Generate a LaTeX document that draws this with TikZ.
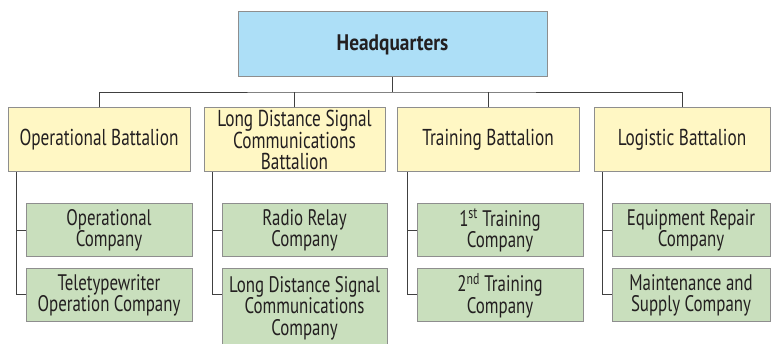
\documentclass[tikz,border=0pt]{standalone}
\usepackage{fontspec}
\setmainfont{PT Sans}
\newfontfamily\condfont[FakeStretch=0.75]{PT Sans}
\newfontfamily\hqfont[FakeStretch=0.86]{PT Sans}
\definecolor{hqfill}{HTML}{ADDFF7}
\definecolor{bfill}{HTML}{FFF7C4}
\definecolor{cfill}{HTML}{C9DFBD}
\definecolor{boxline}{HTML}{8E8E8E}
\definecolor{conn}{HTML}{404040}
\definecolor{txt}{HTML}{231F20}
\begin{document}
\begin{tikzpicture}[x=1pt,y=-1pt,
  box/.style={draw=boxline,line width=1pt,rectangle,align=center,inner sep=0pt,
    font=\condfont\fontsize{23}{21}\selectfont,text=txt},
  hqbox/.style={box,fill=hqfill,minimum width=309pt,minimum height=65pt,font=\hqfont\fontsize{22.5}{24}\selectfont\bfseries},
  battbox/.style={box,fill=bfill,minimum height=64pt},
  compbox/.style={box,fill=cfill,minimum height=53pt,font=\condfont\fontsize{22.5}{21.5}\selectfont},
  link/.style={draw=conn,line width=0.8pt}]
\useasboundingbox (0,0) rectangle (771,344);

\node[hqbox] (hq) at (392.5,44.5) {Headquarters};

\node[battbox,minimum width=182pt] (ob) at (99,140) {Operational Battalion};
\node[battbox,minimum width=181pt] (lb) at (294.5,140) {Long Distance Signal\\Communications\\Battalion};
\node[battbox,minimum width=182pt] (tb) at (488,140) {Training Battalion};
\node[battbox,minimum width=176pt] (gb) at (682,140) {Logistic Battalion};

\node[compbox,minimum width=166pt] (oc1) at (109,230.5) {Operational\\Company};
\node[compbox,minimum width=166pt] (oc2) at (109,295.5) {Teletypewriter\\Operation Company};
\node[compbox,minimum width=165pt] (lc1) at (304.5,230.5) {Radio Relay\\Company};
\node[compbox,minimum width=165pt,minimum height=78pt] (lc2) at (304.5,308) {Long Distance Signal\\Communications\\Company};
\node[compbox,minimum width=166pt] (tc1) at (500,230.5) {1\textsuperscript{st} Training\\Company};
\node[compbox,minimum width=166pt] (tc2) at (500,295.5) {2\textsuperscript{nd} Training\\Company};
\node[compbox,minimum width=158pt] (gc1) at (691,230.5) {Equipment Repair\\Company};
\node[compbox,minimum width=158pt] (gc2) at (691,295.5) {Maintenance and\\Supply Company};

% bus
\coordinate (bus) at (0,92);
\draw[link] (hq.south) -- (hq.south |- bus);
\draw[link] (ob.north) |- (hq.south |- bus) -| (gb.north);
\draw[link] (lb.north) -- (lb.north |- bus);
\draw[link] (tb.north) -- (tb.north |- bus);

% trunks
\coordinate (r2) at (0,294.3);
\coordinate (ot) at ([xshift=9pt]ob.south west);
\coordinate (lt) at ([xshift=9pt]lb.south west);
\coordinate (tt) at ([xshift=11pt]tb.south west);
\coordinate (gt) at ([xshift=9pt]gb.south west);
\draw[link] (ot) |- (oc1.west);
\draw[link] (ot) |- (oc2.west |- r2);
\draw[link] (lt) |- (lc1.west);
\draw[link] (lt) |- (lc2.west |- r2);
\draw[link] (tt) |- (tc1.west);
\draw[link] (tt) |- (tc2.west |- r2);
\draw[link] (gt) |- (gc1.west);
\draw[link] (gt) |- (gc2.west |- r2);
\end{tikzpicture}
\end{document}
